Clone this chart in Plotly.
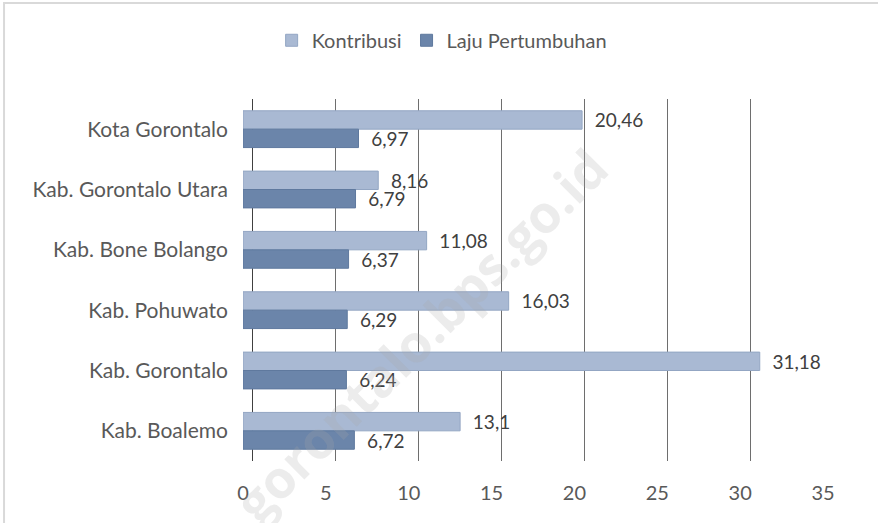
import plotly.graph_objects as go

categories = ["Kota Gorontalo", "Kab. Gorontalo Utara", "Kab. Bone Bolango",
              "Kab. Pohuwato", "Kab. Gorontalo", "Kab. Boalemo"]
kontribusi = [20.46, 8.16, 11.08, 16.03, 31.18, 13.1]
laju = [6.97, 6.79, 6.37, 6.29, 6.24, 6.72]
x_ticks = [0, 5, 10, 15, 20, 25, 30, 35]

FONT = "Lato"
TXT = "#404040"
LBL = "#595959"
FS = 20
PAD = "\u00a0\u00a0"

fig = go.Figure()
fig.add_trace(go.Bar(
    y=categories, x=kontribusi, orientation="h", name="Kontribusi",
    marker=dict(color="#A9B9D3", line=dict(color="#93A6C3", width=1)),
    texttemplate=PAD + "%{x}", textposition="outside",
    constraintext="none",
    textfont=dict(family=FONT, size=19, color=TXT), cliponaxis=False,
))
fig.add_trace(go.Bar(
    y=categories, x=laju, orientation="h", name="Laju Pertumbuhan",
    marker=dict(color="#6B85AA", line=dict(color="#5F799E", width=1)),
    texttemplate=PAD + "%{x}", textposition="outside",
    constraintext="none",
    textfont=dict(family=FONT, size=19, color=TXT), cliponaxis=False,
))
# empty trace to activate the back-wall grid axis
fig.add_trace(go.Scatter(x=[], y=[], xaxis="x2", yaxis="y", showlegend=False,
                         hoverinfo="skip"))

fig.update_layout(
    width=878, height=523,
    separators=",.",
    margin=dict(l=243, r=45, t=99, b=62),
    paper_bgcolor="white", plot_bgcolor="white",
    barmode="group", bargap=0.39, bargroupgap=0.0,
    font=dict(family=FONT, color=LBL, size=FS),
    showlegend=True,
    legend=dict(orientation="h", xref="container", yref="container",
                x=0.503, y=0.923, xanchor="center", yanchor="middle",
                font=dict(family=FONT, size=FS, color=LBL),
                itemwidth=30, traceorder="normal"),
    xaxis=dict(range=[0, 35.6], showgrid=False, zeroline=False,
               tickvals=x_ticks, ticktext=[str(t) for t in x_ticks],
               tickfont=dict(family=FONT, size=FS, color=LBL),
               ticks="", showline=False, ticklabelstandoff=18),
    xaxis2=dict(range=[-0.6, 35], overlaying="x", side="bottom",
                showticklabels=False, showgrid=True, gridcolor="#6E6E6E",
                gridwidth=1, tickvals=x_ticks, zeroline=True,
                zerolinecolor="#404040", zerolinewidth=1, showline=False),
    yaxis=dict(autorange="reversed", showgrid=False, zeroline=False,
               tickfont=dict(family=FONT, size=21, color=LBL),
               ticks="", showline=False, ticklabelstandoff=14),
    shapes=[dict(type="rect", xref="paper", yref="paper",
                 x0=-0.405, x1=1.3, y0=-0.5, y1=1.265,
                 line=dict(color="#D9D9D9", width=2), layer="below")],
    annotations=[dict(text="<b>gorontalo.bps.go.id</b>", xref="paper", yref="paper",
                      x=0.30, y=0.35, xanchor="center", yanchor="middle",
                      showarrow=False, textangle=-45,
                      font=dict(family="Open Sans", size=52,
                                color="rgba(170,170,170,0.22)"))],
)

fig.write_html("out.html", config={"displayModeBar": False},
               post_script="document.body.style.margin='0';")
